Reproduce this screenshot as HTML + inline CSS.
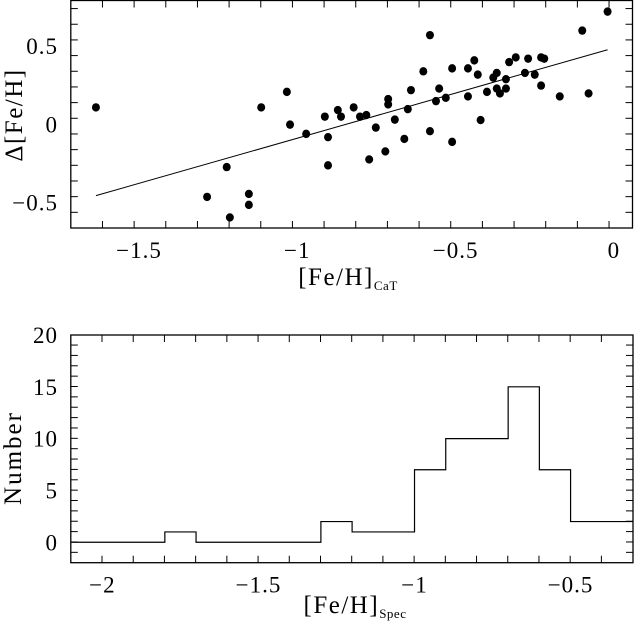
<!DOCTYPE html>
<html><head><meta charset="utf-8"><style>
html,body{margin:0;padding:0;background:#fff;}
svg{display:block;font-family:"Liberation Serif",serif;}
</style></head><body>
<svg id="c" width="634" height="629" viewBox="0 0 634 629" xmlns="http://www.w3.org/2000/svg"></svg>
<script>
// Top scatter data
const scatterX = [-1.636,-1.033,-1.285,-1.223,-1.213,-1.153,-1.153,-1.114,-1.023,-0.972,-0.913,-0.903,-0.903,-0.872,-0.862,-0.822,-0.802,-0.782,-0.773,-0.752,-0.722,-0.713,-0.713,-0.692,-0.662,-0.651,-0.641,-0.602,-0.581,-0.581,-0.562,-0.552,-0.531,-0.511,-0.511,-0.461,-0.461,-0.441,-0.430,-0.421,-0.401,-0.381,-0.370,-0.370,-0.360,-0.341,-0.341,-0.331,-0.310,-0.281,-0.271,-0.250,-0.230,-0.230,-0.220,-0.171,-0.100,-0.080,-0.020];
const scatterY = [0.108,0.207,-0.463,-0.273,-0.594,-0.444,-0.514,0.108,-0.002,-0.061,0.049,-0.082,-0.262,0.091,0.049,0.108,0.049,0.059,-0.224,-0.021,-0.173,0.161,0.127,0.030,-0.093,0.097,0.218,0.338,0.569,-0.044,0.148,0.228,0.169,0.357,-0.112,0.357,0.178,0.408,0.317,0.027,0.207,0.298,0.328,0.228,0.197,0.288,0.228,0.397,0.427,0.328,0.419,0.317,0.247,0.427,0.419,0.178,0.598,0.197,0.719];
const fitX = [-1.636,-0.020];
const fitY = [-0.455,0.476];
const topXTicks = [-1.5,-1,-0.5,0];
const topXTickLabels = ["\u22121.5","\u22121","\u22120.5","0"];
const topYTicks = [-0.5,0,0.5];
const topYTickLabels = ["\u22120.5","0","0.5"];
// Bottom histogram data
const binEdges = [-2.1,-2.0,-1.9,-1.8,-1.7,-1.6,-1.5,-1.4,-1.3,-1.2,-1.1,-1.0,-0.9,-0.8,-0.7,-0.6,-0.5,-0.4,-0.3];
const binCounts = [0,0,0,1,0,0,0,0,2,1,1,7,10,10,15,7,2,2];
const botXTicks = [-2,-1.5,-1,-0.5];
const botXTickLabels = ["\u22122","\u22121.5","\u22121","\u22120.5"];
const botYTicks = [0,5,10,15,20];
const botYTickLabels = ["0","5","10","15","20"];

const NS="http://www.w3.org/2000/svg";
const svg=document.getElementById('c');
function mk(tag,attrs,parent){const e=document.createElementNS(NS,tag);for(const k in attrs)e.setAttribute(k,attrs[k]);(parent||svg).appendChild(e);return e;}

function panel(o){
  const g=mk('g',{});
  
  
  const sx=v=>o.x0+(v-o.xmin)/(o.xmax-o.xmin)*(o.x1-o.x0);
  const sy=v=>o.y1-(v-o.ymin)/(o.ymax-o.ymin)*(o.y1-o.y0);
  const fr=mk('rect',{x:o.x0,y:o.y0,width:o.x1-o.x0,height:o.y1-o.y0,fill:'none',stroke:'#000','stroke-width':1.3},g);
  
  
  const nx=Math.round((o.xmax-o.xmin)/o.xminor);
  for(let i=0;i<=nx;i++){
    const v=o.xmin+i*o.xminor; const X=sx(v);
    if(X<o.x0+0.5||X>o.x1-0.5) continue;
    const maj=o.xTicks.some(t=>Math.abs(t-v)<1e-6); const L=maj?15:7;
    mk('line',{x1:X,y1:o.y1,x2:X,y2:o.y1-L,stroke:'#000','stroke-width':1},g);
    mk('line',{x1:X,y1:o.y0,x2:X,y2:o.y0+L,stroke:'#000','stroke-width':1},g);
  }
  const ny=Math.round((o.ymax-o.ymin)/o.yminor);
  for(let i=0;i<=ny;i++){
    const v=o.ymin+i*o.yminor; const Y=sy(v);
    if(Y<o.y0+0.5||Y>o.y1-0.5) continue;
    const maj=o.yTicks.some(t=>Math.abs(t-v)<1e-6); const L=maj?15:7;
    mk('line',{x1:o.x0,y1:Y,x2:o.x0+L,y2:Y,stroke:'#000','stroke-width':1},g);
    mk('line',{x1:o.x1,y1:Y,x2:o.x1-L,y2:Y,stroke:'#000','stroke-width':1},g);
  }
  o.xTicks.forEach((t,i)=>{
    const tx=mk('text',{x:sx(t),y:o.y1+30,'text-anchor':'middle','font-size':23,'letter-spacing':1},g);
    tx.textContent=o.xLabels[i];
    
    
  });
  o.yTicks.forEach((t,i)=>{
    const tx=mk('text',{x:58,y:sy(t)+8,'text-anchor':'end','font-size':23,'letter-spacing':1},g);
    tx.textContent=o.yLabels[i];
    
    
  });
  return {g,sx,sy};
}

// TOP
const T=panel({name:'scatter-panel',x0:70.8,x1:632.5,y0:0.5,y1:228,xmin:-1.7154,xmax:0.0587,ymin:-0.6615,ymax:0.79,xminor:0.1,yminor:0.1,xTicks:topXTicks,xLabels:topXTickLabels,yTicks:topYTicks,yLabels:topYTickLabels});
const fit=mk('line',{x1:T.sx(fitX[0]),y1:T.sy(fitY[0]),x2:T.sx(fitX[1]),y2:T.sy(fitY[1]),stroke:'#000','stroke-width':1},T.g);


scatterX.forEach((x,i)=>{
  const c=mk('ellipse',{cx:T.sx(x),cy:T.sy(scatterY[i]),rx:4,ry:4.2,fill:'#000'},T.g);
  
  
});
let t=mk('text',{x:348,y:285,'text-anchor':'middle','font-size':25,'letter-spacing':1.5});
t.innerHTML='[Fe/H]<tspan font-size="13" dy="5" letter-spacing="0.5">CaT</tspan>';


t=mk('text',{x:0,y:0,'text-anchor':'middle','font-size':25,'letter-spacing':1.5,transform:'translate(22,115) rotate(-90)'});
t.textContent='\u0394[Fe/H]';



// BOTTOM
const B=panel({name:'histogram-panel',x0:70.8,x1:633,y0:335,y1:562.7,xmin:-2.1013,xmax:-0.3,ymin:-1.97,ymax:20,xminor:0.1,yminor:1,xTicks:botXTicks,xLabels:botXTickLabels,yTicks:botYTicks,yLabels:botYTickLabels});
let d='';
binCounts.forEach((n,i)=>{
  const xa=B.sx(binEdges[i]),xb=B.sx(binEdges[i+1]),y=B.sy(n);
  d+=(i===0?'M':'L')+xa+' '+y+' L'+xb+' '+y+' ';
});
const h=mk('path',{d:d,fill:'none',stroke:'#000','stroke-width':1.2},B.g);


t=mk('text',{x:355,y:613,'text-anchor':'middle','font-size':25,'letter-spacing':1.5});
t.innerHTML='[Fe/H]<tspan font-size="13" dy="5" letter-spacing="0.5">Spec</tspan>';


t=mk('text',{x:0,y:0,'text-anchor':'middle','font-size':25,'letter-spacing':2,transform:'translate(21,458) rotate(-90)'});
t.textContent='Number';


</script>
</body></html>
